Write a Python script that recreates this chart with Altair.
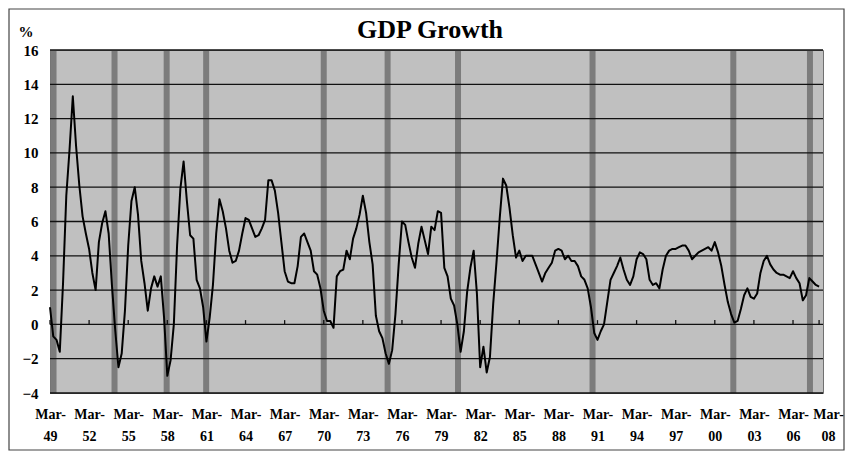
import altair as alt
import pandas as pd

# ---------------- data ----------------
start_year = 1949  # first quarter shown (Mar-49), quarterly data
gdp_growth = [
    1.0, -0.7, -0.9, -1.6,    # 1949
    2.4, 7.5, 10.2, 13.3,     # 1950
    10.4, 8.1, 6.3, 5.3,      # 1951
    4.4, 3.0, 2.0, 4.8,       # 1952
    5.9, 6.6, 5.3, 2.3,       # 1953
    -0.3, -2.5, -1.7, 0.8,    # 1954
    4.6, 7.2, 8.0, 6.4,       # 1955
    3.7, 2.4, 0.8, 2.1,       # 1956
    2.8, 2.2, 2.8, 0.4,       # 1957
    -3.0, -2.1, 0.0, 4.6,     # 1958
    7.9, 9.5, 7.2, 5.2,       # 1959
    5.0, 2.6, 2.1, 1.0,       # 1960
    -1.0, 0.4, 2.3, 5.3,      # 1961
    7.3, 6.6, 5.6, 4.3,       # 1962
    3.6, 3.7, 4.3, 5.3,       # 1963
    6.2, 6.1, 5.6, 5.1,       # 1964
    5.2, 5.6, 6.1, 8.4,       # 1965
    8.4, 7.8, 6.5, 4.8,       # 1966
    3.1, 2.5, 2.4, 2.4,       # 1967
    3.4, 5.1, 5.3, 4.8,       # 1968
    4.3, 3.1, 2.9, 2.1,       # 1969
    0.8, 0.2, 0.2, -0.2,      # 1970
    2.8, 3.1, 3.2, 4.3,       # 1971
    3.8, 5.0, 5.6, 6.4,       # 1972
    7.5, 6.5, 4.8, 3.5,       # 1973
    0.5, -0.4, -0.8, -1.7,    # 1974
    -2.3, -1.5, 0.6, 3.5,     # 1975
    6.0, 5.8, 4.8, 3.9,       # 1976
    3.3, 4.7, 5.7, 4.9,       # 1977
    4.1, 5.7, 5.5, 6.6,       # 1978
    6.5, 3.3, 2.8, 1.5,       # 1979
    1.1, 0.0, -1.6, -0.4,     # 1980
    1.9, 3.3, 4.3, 1.8,       # 1981
    -2.5, -1.3, -2.8, -1.9,   # 1982
    1.2, 3.6, 6.2, 8.5,       # 1983
    8.1, 6.8, 5.2, 3.9,       # 1984
    4.3, 3.7, 4.0, 4.0,       # 1985
    4.0, 3.5, 3.0, 2.5,       # 1986
    3.0, 3.3, 3.6, 4.3,       # 1987
    4.4, 4.3, 3.8, 4.0,       # 1988
    3.7, 3.7, 3.4, 2.8,       # 1989
    2.6, 2.1, 1.0, -0.5,      # 1990
    -0.9, -0.4, 0.0, 1.3,     # 1991
    2.6, 3.0, 3.4, 3.9,       # 1992
    3.2, 2.6, 2.3, 2.8,       # 1993
    3.8, 4.2, 4.1, 3.8,       # 1994
    2.6, 2.3, 2.4, 2.1,       # 1995
    3.2, 4.0, 4.3, 4.4,       # 1996
    4.4, 4.5, 4.6, 4.6,       # 1997
    4.3, 3.8, 4.0, 4.2,       # 1998
    4.3, 4.4, 4.5, 4.3,       # 1999
    4.8, 4.2, 3.4, 2.3,       # 2000
    1.3, 0.6, 0.1, 0.2,       # 2001
    0.9, 1.7, 2.1, 1.6,       # 2002
    1.5, 1.8, 3.0, 3.7,       # 2003
    4.0, 3.5, 3.2, 3.0,       # 2004
    2.9, 2.9, 2.8, 2.7,       # 2005
    3.1, 2.7, 2.4, 1.4,       # 2006
    1.7, 2.7, 2.5, 2.3,       # 2007
    2.2,                      # 2008
]

# shaded (recession) bars: start / end, in years
band_start = [1949.04, 1953.72, 1957.72, 1960.75, 1969.77, 1974.67, 1980.07, 1990.39, 2001.19, 2007.07]
band_end = [1949.50, 1954.18, 1958.18, 1961.21, 1970.23, 1975.13, 1980.53, 1990.85, 2001.65, 2007.53]

tick_years = [1949, 1952, 1955, 1958, 1961, 1964, 1967, 1970, 1973, 1976, 1979,
              1982, 1985, 1988, 1991, 1994, 1997, 2000, 2003, 2006, 2008]
tick_labels = ["Mar-|49", "Mar-|52", "Mar-|55", "Mar-|58", "Mar-|61", "Mar-|64", "Mar-|67",
               "Mar-|70", "Mar-|73", "Mar-|76", "Mar-|79", "Mar-|82", "Mar-|85", "Mar-|88",
               "Mar-|91", "Mar-|94", "Mar-|97", "Mar-|00", "Mar-|03", "Mar-|06", "Mar-|08"]
y_ticks = [-4, -2, 0, 2, 4, 6, 8, 10, 12, 14, 16]
chart_title = "GDP Growth"
y_unit = "%"

# ---------------- tables ----------------
line_df = pd.DataFrame({
    "t": [start_year + i * 0.25 for i in range(len(gdp_growth))],
    "g": gdp_growth,
})
band_df = pd.DataFrame({"s": band_start, "e": band_end})
grid_df = pd.DataFrame({"v": y_ticks})
tick_df = pd.DataFrame({"yr": tick_years})

FONT = "Liberation Serif"
W, H = 773, 343

x_scale = alt.Scale(domain=[1949, 2008.3], nice=False, zero=False)
y_scale = alt.Scale(domain=[-4, 16], nice=False, zero=False)

years_js = "[" + ",".join(str(v) for v in tick_years) + "]"
labels_js = "[" + ",".join("'" + s + "'" for s in tick_labels) + "]"

x_axis = alt.Axis(
    values=tick_years,
    labelExpr=f"split({labels_js}[indexof({years_js}, datum.value)], '|')",
    labelOffset={"condition": {"test": "datum.value == 2008", "value": 9}, "value": 0},
    title=None, grid=False, ticks=False, domain=False,
    labelFont=FONT, labelFontWeight="bold", labelFontSize=14, labelColor="black",
    labelPadding=14, labelLineHeight=22, labelFlush=False, labelOverlap=False,
)
y_axis = alt.Axis(
    values=y_ticks, format="d",
    title=y_unit, titleAngle=0, titleX=-32, titleY=-14, titleAlign="left",
    titleBaseline="alphabetic", titleFont=FONT, titleFontSize=15,
    titleFontWeight="bold", titleColor="black",
    grid=False, ticks=False, domain=False, labelOverlap=False,
    labelFont=FONT, labelFontWeight="bold", labelFontSize=15, labelColor="black",
    labelPadding=12,
)

bands = alt.Chart(band_df).mark_rect(color="#7c7c7c").encode(
    x=alt.X("s:Q", scale=x_scale, axis=x_axis),
    x2="e:Q",
    y=alt.Y(datum=16, scale=y_scale, axis=y_axis),
    y2=alt.datum(-4),
)

grid = alt.Chart(grid_df).mark_rule(color="#111111", strokeWidth=1.3).encode(
    y=alt.Y("v:Q", scale=y_scale, axis=y_axis),
)

ticks = alt.Chart(tick_df).mark_rule(color="#111111", strokeWidth=1.3).encode(
    x=alt.X("yr:Q", scale=x_scale, axis=x_axis),
    y=alt.Y(datum=0, scale=y_scale, axis=y_axis),
    y2=alt.datum(0.25),
)

line = alt.Chart(line_df).mark_line(
    color="black", strokeWidth=2.0, strokeJoin="round"
).encode(
    x=alt.X("t:Q", scale=x_scale, axis=x_axis),
    y=alt.Y("g:Q", scale=y_scale, axis=y_axis),
)

title = alt.Chart(pd.DataFrame({"txt": [chart_title]})).mark_text(
    font=FONT, fontSize=26, fontWeight="bold", color="black",
    align="center", baseline="alphabetic",
).encode(
    text="txt:N", x=alt.value(380), y=alt.value(-12),
)

frame = alt.Chart(pd.DataFrame({"a": [0]})).mark_rect(
    filled=False, stroke="#444444", strokeWidth=1.2
).encode(
    x=alt.value(-41), x2=alt.value(W + 21),
    y=alt.value(-41), y2=alt.value(H + 57),
)

chart = alt.layer(bands, grid, ticks, line, title, frame).properties(
    width=W, height=H,
    background="white",
    autosize=alt.AutoSizeParams(type="none"),
    padding={"left": 42, "top": 42, "right": 22, "bottom": 59},
).configure_view(
    fill="#c0c0c0", stroke="#707070", strokeWidth=1,
)

chart.save("out.html", embed_options={"renderer": "svg", "actions": False})
